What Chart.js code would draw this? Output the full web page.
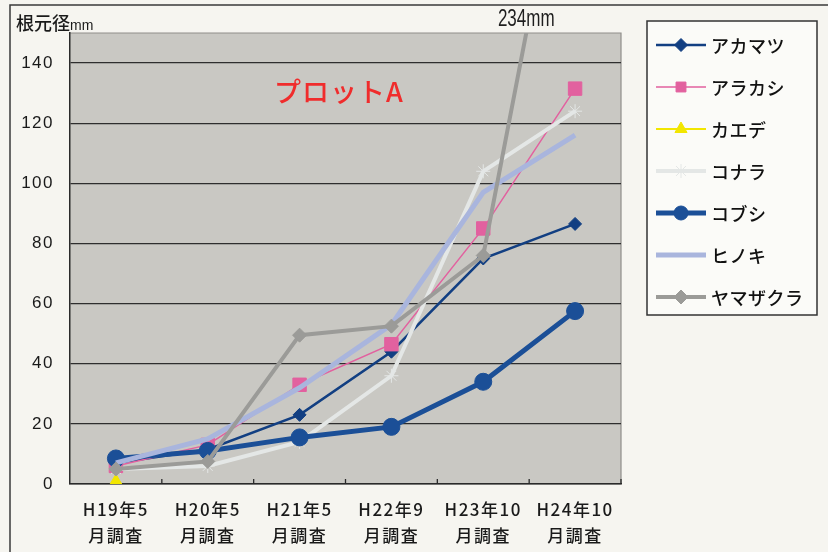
<!DOCTYPE html>
<html>
<head>
<meta charset="utf-8">
<script src="https://cdn.jsdelivr.net/npm/chart.js@4/dist/chart.umd.min.js"></script>
<style>
  html, body { margin: 0; padding: 0; background: #f6f5f0; }
  #wrap { width: 828px; height: 552px; position: relative; }
</style>
</head>
<body>
<div id="wrap"><canvas id="c" width="828" height="552"></canvas></div>
<script>
// Survey dates (two-line tick labels)
const surveys = [
  ["H19年5", "月調査"],
  ["H20年5", "月調査"],
  ["H21年5", "月調査"],
  ["H22年9", "月調査"],
  ["H23年10", "月調査"],
  ["H24年10", "月調査"]
];

// Root-collar diameter (mm) per species
const akamatsu   = [7, 11.5, 23, 44, 75, 86.5];
const arakashi   = [6, 13, 33, 46.5, 85, 131.5];
const kaede      = [1, null, null, null, null, null];
const konara     = [5, 6, 14, 36, 104, 124];
const kobushi    = [8.5, 11, 15.5, 19, 34, 57.5];
const hinoki     = [7, 15, 32, 53, 97, 116];
const yamazakura = [5, 7.5, 49.5, 52.5, 76, 234];

const speciesNames = ["アカマツ", "アラカシ", "カエデ", "コナラ", "コブシ", "ヒノキ", "ヤマザクラ"];
const yTicks = [0, 20, 40, 60, 80, 100, 120, 140];
const yMax = 150;

const plotTitle = "プロットA";
const axisTitle = "根元径";
const axisUnit = "mm";

const JP = '"Noto Sans CJK JP", "Liberation Sans", sans-serif';

const styles = [
  { color: "#123f82", width: 2.5, point: "rectRot", r: 6.5 },
  { color: "#e2619f", width: 1.5, point: "rect", r: 9.5 },
  { color: "#f2e600", width: 2, point: "triangle", r: 7 },
  { color: "#e4e7e6", width: 4, point: "star", r: 7 },
  { color: "#1b4f97", width: 5, point: "circle", r: 8.5 },
  { color: "#a9b5dd", width: 5, point: false, r: 0 },
  { color: "#9b9b98", width: 4, point: "rectRot", r: 7 }
];
const seriesData = [akamatsu, arakashi, kaede, konara, kobushi, hinoki, yamazakura];

const datasets = seriesData.map((d, i) => ({
  label: speciesNames[i],
  data: d,
  borderColor: styles[i].color,
  backgroundColor: styles[i].color,
  borderWidth: styles[i].width,
  pointStyle: styles[i].point,
  pointRadius: styles[i].r,
  pointBorderWidth: 1,
  pointBorderColor: styles[i].color,
  pointBackgroundColor: styles[i].color,
  pointHoverRadius: styles[i].r,
  tension: 0,
  spanGaps: false,
  order: seriesData.length - i
}));

// Paper, plot fill, frames and free text
const decor = {
  id: "decor",
  beforeDraw(chart) {
    const { ctx, chartArea: a } = chart;
    ctx.save();
    ctx.fillStyle = "#f6f5f0";
    ctx.fillRect(0, 0, chart.width, chart.height);
    // outer frame (left and top)
    ctx.strokeStyle = "#3a3a3a";
    ctx.lineWidth = 1.5;
    ctx.beginPath();
    ctx.moveTo(10, 560);
    ctx.lineTo(10, 5);
    ctx.lineTo(828, 5);
    ctx.stroke();
    // plot area
    ctx.fillStyle = "#c9c8c3";
    ctx.fillRect(a.left, a.top, a.right - a.left, a.bottom - a.top);
    ctx.strokeStyle = "#8f8e8a";
    ctx.lineWidth = 1.2;
    ctx.beginPath();
    ctx.moveTo(a.left, a.top);
    ctx.lineTo(a.right, a.top);
    ctx.lineTo(a.right, a.bottom);
    ctx.stroke();
    ctx.restore();
    // spaced lettering for axis labels
    ctx.letterSpacing = "1.5px";
  },
  beforeDatasetsDraw(chart) {
    chart.ctx.letterSpacing = "0px";
  },
  afterDraw(chart) {
    const { ctx, chartArea: a } = chart;
    const xs = chart.scales.x, ys = chart.scales.y;
    ctx.save();
    ctx.letterSpacing = "0px";
    // category boundary ticks on the x axis
    ctx.strokeStyle = "#2a2a2a";
    ctx.lineWidth = 1.3;
    ctx.beginPath();
    for (let i = 0; i < surveys.length; i++) {
      const x = i < surveys.length - 1
        ? (xs.getPixelForTick(i) + xs.getPixelForTick(i + 1)) / 2
        : a.right;
      ctx.moveTo(x, a.bottom);
      ctx.lineTo(x, a.bottom - 5);
    }
    ctx.stroke();

    // axis title
    ctx.fillStyle = "#1a1a1a";
    ctx.textBaseline = "alphabetic";
    ctx.textAlign = "left";
    ctx.font = '500 18px "Noto Sans CJK JP", sans-serif';
    ctx.fillText(axisTitle, 16, 30);
    const w = ctx.measureText(axisTitle).width;
    ctx.font = '14px "Liberation Sans", sans-serif';
    ctx.fillText(axisUnit, 16 + w, 30);

    // plot name
    ctx.fillStyle = "#f02c2c";
    ctx.font = '500 27px "Noto Sans CJK JP", sans-serif';
    ctx.letterSpacing = "1px";
    ctx.textAlign = "center";
    ctx.textBaseline = "middle";
    ctx.fillText(plotTitle, 339, 92);
    ctx.letterSpacing = "0px";

    // value of a point that leaves the top of the plot
    chart.data.datasets.forEach((ds) => {
      const d = ds.data;
      for (let i = 1; i < d.length; i++) {
        if (d[i] != null && d[i] > ys.max && d[i - 1] != null && d[i - 1] <= ys.max) {
          const x0 = xs.getPixelForTick(i - 1), x1 = xs.getPixelForTick(i);
          const t = (ys.max - d[i - 1]) / (d[i] - d[i - 1]);
          const xc = x0 + (x1 - x0) * t;
          ctx.save();
          ctx.translate(xc, 26);
          ctx.scale(0.74, 1);
          ctx.fillStyle = "#1e1e1e";
          ctx.font = '23px "Liberation Sans", sans-serif';
          ctx.textAlign = "center";
          ctx.textBaseline = "alphabetic";
          ctx.fillText(d[i] + "mm", 0, 0);
          ctx.restore();
        }
      }
    });

    // legend
    const lx = 647, ly = 21, lw = 170, lh = 294;
    ctx.fillStyle = "#fbfbf8";
    ctx.fillRect(lx, ly, lw, lh);
    ctx.strokeStyle = "#333";
    ctx.lineWidth = 1.5;
    ctx.strokeRect(lx, ly, lw, lh);
    chart.data.datasets.forEach((ds, i) => {
      const y = 45 + i * 42;
      ctx.strokeStyle = ds.borderColor;
      ctx.lineWidth = ds.borderWidth;
      ctx.beginPath();
      ctx.moveTo(656, y);
      ctx.lineTo(706, y);
      ctx.stroke();
      if (ds.pointStyle) {
        ctx.fillStyle = ds.pointBackgroundColor;
        ctx.strokeStyle = ds.pointBorderColor;
        ctx.lineWidth = 1;
        Chart.helpers.drawPoint(ctx, {
          pointStyle: ds.pointStyle,
          radius: Math.min(ds.pointRadius, 7),
          rotation: 0,
          borderWidth: 1
        }, 681, y);
      }
      ctx.fillStyle = "#111";
      ctx.font = '500 18px "Noto Sans CJK JP", sans-serif';
      ctx.letterSpacing = "0.5px";
      ctx.textAlign = "left";
      ctx.textBaseline = "middle";
      ctx.fillText(ds.label, 711, y + 1);
      ctx.letterSpacing = "0px";
    });
    ctx.restore();
  }
};

new Chart(document.getElementById("c"), {
  type: "line",
  data: { labels: surveys, datasets },
  options: {
    responsive: false,
    animation: false,
    events: [],
    layout: { padding: { top: 33, right: 207, left: 0, bottom: 0 } },
    plugins: { legend: { display: false }, tooltip: { enabled: false } },
    scales: {
      x: {
        offset: true,
        grid: { display: false, drawTicks: false },
        border: { display: true, color: "#2a2a2a", width: 1.5 },
        ticks: {
          color: "#1a1a1a",
          padding: 12,
          maxRotation: 0,
          font: { family: JP, size: 17, weight: 500, lineHeight: 1.55 }
        },
        afterFit(s) { s.height = 68; }
      },
      y: {
        min: 0,
        max: yMax,
        afterBuildTicks(s) { s.ticks = yTicks.map(v => ({ value: v })); },
        grid: { color: "#2e2e2e", lineWidth: 1.3, drawTicks: false },
        border: { display: true, color: "#2a2a2a", width: 1.5 },
        ticks: {
          color: "#1a1a1a",
          padding: 16,
          font: { family: '"Liberation Sans", sans-serif', size: 17 }
        },
        afterFit(s) { s.width = 70; }
      }
    }
  },
  plugins: [decor]
});
</script>
</body>
</html>
